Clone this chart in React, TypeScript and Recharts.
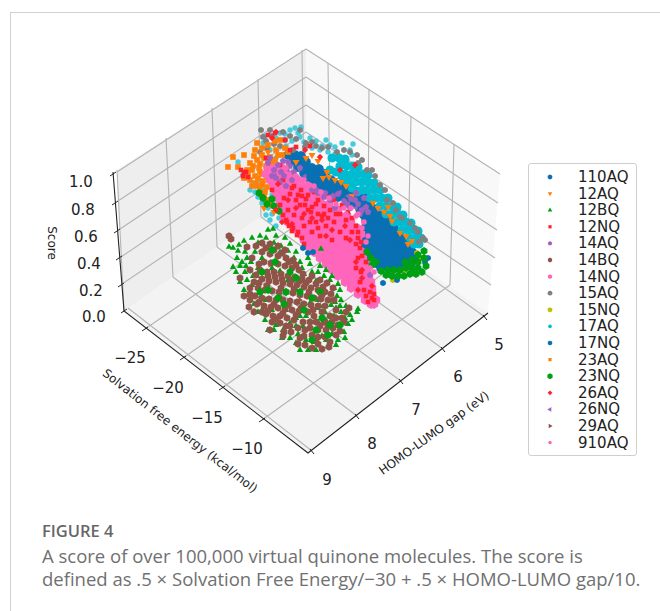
import React from "react";
import { ScatterChart, Scatter, XAxis, YAxis, Legend, Customized } from "recharts";

// The original is a matplotlib 3D scatter. Values here are read off its flattened view,
// so every series is a list of [viewX, viewY] pairs.
type Pt = [number, number];

const solvationLabels = ["\u221225", "\u221220", "\u221215", "\u221210"];
const gapLabels = ["5", "6", "7", "8", "9"];
const scoreLabels = ["1.0", "0.8", "0.6", "0.4", "0.2", "0.0"];

const pts110AQ: Pt[] = [
  [288,155],[295,155],[301,156],[292,161],[299,161],[306,162],[298,167],[305,167],[312,168],[319,169],
  [304,173],[311,173],[318,173],[325,174],[310,179],[317,179],[324,179],[331,180],[316,185],[323,185],
  [330,185],[337,185],[344,186],[322,191],[329,191],[336,191],[343,191],[350,191],[357,192],[331,197],
  [338,197],[345,197],[352,197],[359,197],[366,198],[348,203],[355,203],[362,203],[369,203],[360,209],
  [367,209],[374,209],[364,215],[371,215],[378,215],[384,215],[366,221],[373,221],[380,221],[387,221],
  [366,227],[373,227],[380,227],[387,227],[394,228],[365,233],[372,233],[379,233],[386,233],[393,233],
  [399,234],[364,239],[371,239],[378,239],[385,239],[392,239],[399,239],[405,240],[362,245],[369,245],
  [376,245],[383,245],[390,245],[397,245],[404,245],[409,246],[364,251],[371,251],[378,251],[385,251],
  [392,251],[399,251],[406,251],[412,252],[368,257],[375,257],[382,257],[389,257],[396,257],[403,257],
  [410,257],[415,258],[376,263],[383,263],[390,263],[397,263],[404,263],[411,263],[381,268],[388,268],
  [395,268],[402,268],
];

const pts12AQ: Pt[] = [
  [323,178],[329,177],[335,180],[341,182],[346,186],[327,172],[373,203],[378,208],[384,212],[390,216],
  [392,221],[388,207],[400,233],[406,236],[412,241],[408,244],[306,158],[312,155],[318,161],[268,152],
  [270,205],[264,208],[274,212],[296,162],[352,196],
];

const pts12BQ: Pt[] = [
  [233,248],[239,245],[244,241],[252,238],[268,230],[273,229],[258,243],[245,252],[237,258],[233,267],
  [240,266],[236,272],[245,272],[251,262],[247,280],[253,276],[244,290],[262,258],[274,243],[281,246],
  [285,238],[280,252],[288,251],[296,252],[292,262],[300,262],[308,258],[304,274],[312,272],[320,266],
  [316,281],[324,276],[330,280],[334,288],[337,296],[331,305],[325,312],[335,302],[258,268],[262,291],
  [256,296],[250,300],[266,300],[272,268],[280,271],[288,280],[296,290],[280,296],[272,310],[286,310],
  [296,318],[302,304],[310,296],[318,300],[306,316],[298,334],[296,343],[303,326],[310,322],[318,322],
  [326,320],[334,316],[341,312],[345,318],[348,324],[338,326],[344,332],[332,334],[322,336],[314,342],
  [328,346],[338,340],[357,312],[358,309],[318,308],[312,310],[321,249],[262,310],[268,330],[276,325],
  [283,330],[290,323],[240,282],[229,247],
  [238,251],[247,258],[255,252],[242,262],[260,236],[266,238],[276,236],[290,244],[294,258],[302,268],
  [310,264],[318,272],[326,270],[332,276],[338,284],[340,290],[341,300],[336,308],[246,266],[252,285],
  [257,276],[248,295],[254,304],[258,312],[265,320],[274,330],[282,338],[290,338],[296,326],[300,316],
  [310,303],[320,306],[306,340],[308,350],[300,350],[316,350],[326,340],[336,345],[345,338],[350,315],
  [352,320],[346,306],[340,306],
];

const pts12NQ: Pt[] = [
  [246,172],[243,176],[241,170],[283,180],[292,188],[298,195],[300,205],[306,199],[312,207],[318,214],
  [324,206],[286,220],[289,226],[292,231],[297,235],[302,238],[280,205],[284,198],[288,210],[294,215],
  [302,218],[310,222],[318,228],[326,226],[334,222],[340,232],[346,238],[352,232],[356,226],[332,240],
  [358,238],[361,242],[358,258],[360,248],[366,262],[360,282],[364,290],[366,296],[370,292],[374,294],
  [330,210],[336,214],[342,205],[348,212],[266,158],[275,133],[280,165],[272,190],[262,196],[296,147],
  [310,146],[301,190],[308,195],[314,192],[305,205],[311,212],[296,200],[322,216],[316,222],[328,218],
  [304,226],[312,232],[320,236],[340,214],[346,220],[334,200],[352,218],[358,232],[356,268],[361,272],
  [366,252],[362,256],[356,244],[372,298],[368,302],[374,300],[283,215],[287,222],[293,228],[298,232],
  [304,244],[248,177],[244,172],[285,140],[268,135],[290,150],[294,186],[302,196],[318,200],[326,196],
  [290,194],[308,210],[316,204],[324,214],
];

const pts14AQ: Pt[] = [
  [268,163],[274,170],[281,172],[276,178],[284,176],[290,166],[283,161],[292,180],[286,186],[312,190],
  [318,193],[324,197],[330,200],[338,194],[344,201],[351,199],[358,204],[350,208],[362,210],[366,207],
  [335,208],[300,168],[370,275],[364,198],[356,193],
  [270,158],[278,165],[288,162],[294,172],[272,176],[280,182],[325,193],[316,190],[333,196],[347,204],
  [360,214],[368,212],[355,200],
];

const pts14BQ: Pt[] = [
  [229,236],[231,239],[247,247],[256,246],[262,243],[270,244],[278,246],[285,250],[252,258],[262,252],
  [270,254],[278,256],[286,258],[293,260],[264,262],[271,263],[278,264],[285,266],[292,268],[299,270],
  [260,270],[267,272],[274,272],[281,274],[288,276],[295,277],[302,279],[309,280],[316,284],[323,287],
  [262,279],[269,281],[276,282],[283,283],[290,284],[297,285],[304,287],[311,288],[318,290],[325,292],
  [331,294],[258,288],[265,290],[272,291],[279,292],[286,292],[293,293],[300,295],[307,296],[314,298],
  [321,299],[328,300],[255,296],[262,298],[269,299],[276,300],[283,300],[290,301],[297,302],[304,304],
  [311,305],[318,306],[257,304],[264,306],[271,307],[278,308],[285,309],[292,310],[299,311],[308,312],
  [266,314],[273,316],[280,316],[287,318],[294,320],[272,322],[280,323],[286,326],[284,332],[291,332],
  [244,296],[250,294],[249,307],[254,312],[314,316],[322,312],[330,316],[336,310],[342,318],[316,322],
  [324,322],[332,322],[338,325],[346,312],[349,308],[326,330],[333,328],[318,330],[310,328],[303,322],
  [298,328],[325,337],[318,337],[304,336],[298,344],[305,345],[312,348],[318,344],[322,349],[329,347],
  [283,336],[270,330],[240,278],[250,270],[254,282],
  [266,248],[274,250],[282,253],[259,264],[289,262],[296,265],[303,274],[312,276],[320,280],[327,283],
  [333,288],[268,276],[275,277],[282,279],[292,280],[306,283],[300,281],[256,275],[250,288],[259,283],
  [267,286],[281,288],[294,289],[309,292],[322,295],[334,300],[250,300],[259,302],[274,304],[288,305],
  [301,308],[313,310],[325,306],[268,311],[283,313],[296,315],[276,319],[290,326],[262,312],[320,326],
  [328,325],[336,318],[344,322],[340,331],[310,322],[305,330],[312,335],[300,338],[330,342],[336,335],
  [316,341],
];

const pts14NQ: Pt[] = [
  [268,168],[275,168],[282,168],[266,174],[273,174],[280,174],[287,174],[292,175],[270,180],[277,180],
  [284,180],[291,180],[298,180],[274,186],[281,186],[288,186],[295,186],[302,186],[308,186],[276,192],
  [283,192],[290,192],[297,192],[304,192],[311,192],[316,192],[278,198],[285,198],[292,198],[299,198],
  [306,198],[313,198],[320,198],[280,204],[287,204],[294,204],[301,204],[308,204],[315,204],[322,204],
  [329,204],[282,210],[289,210],[296,210],[303,210],[310,210],[317,210],[324,210],[331,210],[338,210],
  [284,216],[291,216],[298,216],[305,216],[312,216],[319,216],[326,216],[333,216],[340,216],[347,216],
  [288,222],[295,222],[302,222],[309,222],[316,222],[323,222],[330,222],[337,222],[344,222],[351,222],
  [294,228],[301,228],[308,228],[315,228],[322,228],[329,228],[336,228],[343,228],[350,228],[357,228],
  [300,234],[307,234],[314,234],[321,234],[328,234],[335,234],[342,234],[349,234],[356,234],[361,234],
  [304,240],[311,240],[318,240],[325,240],[332,240],[339,240],[346,240],[353,240],[358,240],[308,246],
  [315,246],[322,246],[329,246],[336,246],[343,246],[350,246],[357,246],[314,252],[321,252],[328,252],
  [335,252],[342,252],[349,252],[356,252],[362,252],[320,258],[327,258],[334,258],[341,258],[348,258],
  [355,258],[363,258],[326,264],[333,264],[340,264],[347,264],[354,264],[361,264],[366,264],[332,270],
  [339,270],[346,270],[353,270],[360,270],[367,270],[338,276],[345,276],[352,276],[359,276],[369,276],
  [345,282],[352,282],[359,282],[366,282],[371,282],[351,288],[358,288],[365,288],[372,288],[358,294],
  [365,294],[372,294],[365,300],[371,300],[376,300],[371,304],[374,304],[363,276],[368,288],
];

const pts15AQ: Pt[] = [
  [261,130],[263,137],[266,141],[272,136],[285,140],[296,139],[306,143],[316,146],[328,147],[337,152],
  [344,150],[357,155],[362,160],[367,170],[375,176],[380,185],[387,200],[393,203],[400,217],[402,218],
  [410,223],[418,232],[423,238],[419,242],[260,152],[274,144],
  [283,132],[290,136],[300,130],[312,142],[322,148],[350,152],[372,170],[385,190],[396,210],[280,146],
  [270,130],[267,148],[293,150],[305,147],[415,228],[425,240],[358,163],
];

const pts15NQ: Pt[] = [[417,253],[421,258],[393,280],[405,271]];

const pts17AQ: Pt[] = [
  [332,158],[339,158],[345,159],[340,166],[347,166],[353,166],[358,167],[345,174],[352,174],[358,174],
  [364,174],[368,175],[350,182],[356,182],[362,182],[368,182],[374,183],[362,190],[368,190],[374,190],
  [380,190],[370,198],[376,198],[382,198],[388,198],[380,206],[386,206],[392,206],[397,207],[386,214],
  [392,214],[398,214],[403,215],[394,222],[400,222],[406,222],[411,223],[402,230],[408,230],[414,230],
  [418,231],[410,238],[416,238],[421,238],[414,244],[419,244],[330,170],[336,172],[342,176],[345,180],
  [352,188],[357,192],[352,180],
];

// the thin spray of 17AQ points behind the main band
const pts17AQSpray: Pt[] = [
  [320,150],[328,152],[335,154],[285,134],[295,128],[301,127],[265,136],[270,150],[300,137],[310,138],
  [316,141],[326,140],[246,173],[255,192],[258,180],[262,203],[268,208],[272,214],[279,218],[350,150],
  [272,195],[265,190],[286,146],[276,158],[263,143],[280,133],[276,138],[290,130],[298,133],[292,141],
  [304,142],[312,148],[330,145],[322,146],[335,147],[342,143],[352,155],[353,144],[253,183],[243,175],
  [238,162],[250,190],[258,197],[270,220],[276,226],[266,215],
];

const pts17NQ: Pt[] = [[303,248],[308,253],[313,252],[383,283],[397,280],[390,275],[425,262],[428,258]];

const pts23AQ: Pt[] = [
  [233,157],[244,155],[228,167],[238,167],[257,143],[255,150],[262,148],[250,163],[257,160],[264,158],
  [252,170],[259,168],[266,166],[273,163],[248,175],[255,176],[262,174],[269,172],[256,183],[263,181],
  [270,179],[260,190],[267,187],[264,197],[270,200],[276,150],[282,155],[275,160],[280,140],
  [247,170],[253,166],[260,172],[267,176],[274,168],[250,180],[244,178],[257,186],[265,192],[272,183],
  [262,155],[270,157],[278,155],[285,148],[268,145],[275,141],[288,152],[254,156],[260,164],[268,162],
  [258,178],[252,186],[266,200],[262,185],
];

const pts23NQ: Pt[] = [
  [259,193],[263,198],[267,204],[274,206],[272,199],[279,211],
  [367,252],[371,258],[376,262],[372,265],[388,270],[394,270],[400,270],[406,268],[412,265],[418,262],
  [424,258],[418,255],[424,251],[426,266],[422,272],[416,274],[410,274],[404,276],[398,276],[392,276],
  [386,275],[381,271],[412,270],[418,268],[405,262],[412,260],
  [275,262],[290,272],[268,290],[300,292],[284,304],[312,298],[278,298],[296,278],[262,272],[320,292],
  [304,310],[272,250],[286,292],[260,292],[316,330],[330,325],[322,318],[340,325],[312,340],[328,335],
];

const pts26AQ: Pt[] = [
  [272,138],[276,132],[305,150],[320,157],[340,170],[355,165],[278,184],[288,200],[296,208],[304,214],
  [312,218],[322,220],[332,230],[345,226],[350,240],[356,262],[362,270],[362,278],[326,236],
  [358,290],[372,286],[276,210],[282,222],[292,224],
];

const pts26NQ: Pt[] = [[275,175],[288,170],[305,176],[340,192],[356,208],[348,196]];

const pts29AQ: Pt[] = [[270,265],[300,300],[320,295],[290,305],[265,285]];

const pts910AQ: Pt[] = [
  [286,168],[296,176],[304,180],[314,186],[321,192],[329,198],[336,204],[344,208],[351,208],[358,214],
  [364,222],[362,228],[356,216],[346,214],[366,242],[368,236],[370,268],[374,272],
];

const seriesNames = ["110AQ","12AQ","12BQ","12NQ","14AQ","14BQ","14NQ","15AQ","15NQ","17AQ","17NQ","23AQ","23NQ","26AQ","26NQ","29AQ","910AQ"];
const seriesPoints: Pt[][] = [pts110AQ,pts12AQ,pts12BQ,pts12NQ,pts14AQ,pts14BQ,pts14NQ,pts15AQ,pts15NQ,pts17AQ,pts17NQ,pts23AQ,pts23NQ,pts26AQ,pts26NQ,pts29AQ,pts910AQ];
const seriesColors = ["#0a70b4","#ff8008","#00a014","#ff2030","#a060c0","#8f5347","#ff66bb","#808080","#c0c000","#00bcd0","#0a70b4","#ff8008","#00a014","#ff2030","#a060c0","#8f5347","#ff66bb"];
const seriesMarkers = ["circle","down","up","square","pentagon","hexagon","hexagon","circle","circle","circle","circle","square","hexagon","diamond","left","right","circle"];
const seriesRadius = [4.9,4,3.7,3.2,3.4,3.8,4.9,3,3,4.6,3,4,3.9,3.2,3,3,2.8];
const legendRadius = [2.4,2.6,2.6,2.3,2.4,2.4,2.4,2.4,2.4,1.9,2.3,2.3,3,2.4,2.6,2.6,1.7];
const draw = [0,9,7,11,1,6,3,4,2,5,8,10,12,13,14,15,16];

const markerPath = (kind: string, x: number, y: number, r: number) => {
  const poly = (n: number, start: number) => {
    const out: string[] = [];
    for (let i = 0; i < n; i++) {
      const a = start + (i * 2 * Math.PI) / n;
      out.push(`${(x + r * Math.cos(a)).toFixed(1)},${(y + r * Math.sin(a)).toFixed(1)}`);
    }
    return "M" + out.join("L") + "Z";
  };
  if (kind === "down") return poly(3, Math.PI / 2);
  if (kind === "up") return poly(3, -Math.PI / 2);
  if (kind === "left") return poly(3, Math.PI);
  if (kind === "right") return poly(3, 0);
  if (kind === "square") return poly(4, Math.PI / 4);
  if (kind === "diamond") return poly(4, 0);
  if (kind === "pentagon") return poly(5, -Math.PI / 2);
  if (kind === "hexagon") return poly(6, -Math.PI / 2);
  return poly(12, 0);
};

const font = "'DejaVu Sans', sans-serif";
const gridColor = "#b4b4b4";

// 3D box as it sits in the view
const leftWall = "124,311 117,170 306,49 306,186";
const rightWall = "306,49 500,174 488,313 306,186";
const floor = "124,311 308,453 488,313 306,186";

const gridLines = [
  // score lines on the two walls
  [117,172,306,49],[118,201,306,77],[120,229,306,105],[121,257,306,132],[122,284,306,160],
  [306,49,500,174],[306,77,498,203],[306,105,497,230],[306,132,495,258],[306,160,491,285],
  // verticals on the left wall
  [117,170,124,311],[166,138,173,277],[212,108,217,247],[258,79,261,217],[302,50,304,187],
  // verticals on the right wall
  [328,63,330,202],[369,89,368,229],[411,116,408,256],[454,144,450,285],
  // floor
  [173,277,357,416],[217,247,401,381],[261,217,443,349],[304,187,485,317],[128,308,312,451],
  [145,329,330,202],[183,358,368,229],[222,388,408,256],[262,420,450,285],
];
const solvationTicks = [[145,329,130,358],[183,358,168,388],[222,388,207,418],[262,420,247,449]];
const gapTicks = [[485,317,499,345],[443,349,458,377],[401,381,416,410],[357,416,372,444],[312,451,327,480]];
const scoreTicks = [[113,174,81,182],[115,203,83,210],[117,231,86,237],[119,258,89,264],[121,285,91,291],[124,311,94,317]];

const Frame = () => (
  <g>
    <polygon points={leftWall} fill="#eeeeee" />
    <polygon points={rightWall} fill="#f8f8f8" />
    <polygon points={floor} fill="#f3f3f3" />
    {gridLines.map((l, i) => (
      <line key={i} x1={l[0]} y1={l[1]} x2={l[2]} y2={l[3]} stroke={gridColor} strokeWidth={1.1} />
    ))}
    <polyline points="113,172 124,311 308,453 488,313" fill="none" stroke="#222" strokeWidth={1.1} />
    {solvationTicks.map((t, i) => (
      <g key={i}>
        <line x1={t[0] - 3} y1={t[1] + 2} x2={t[0] + 3} y2={t[1] - 2} stroke="#222" />
        <text x={t[2]} y={t[3]} textAnchor="middle" fontFamily={font} fontSize={15} fill="#222" dominantBaseline="central">{solvationLabels[i]}</text>
      </g>
    ))}
    {gapTicks.map((t, i) => (
      <g key={i}>
        <line x1={t[0] - 2} y1={t[1] - 2} x2={t[0] + 2} y2={t[1] + 3} stroke="#222" />
        <text x={t[2]} y={t[3]} textAnchor="middle" fontFamily={font} fontSize={15} fill="#222" dominantBaseline="central">{gapLabels[i]}</text>
      </g>
    ))}
    {scoreTicks.map((t, i) => (
      <g key={i}>
        <line x1={t[0] - 3} y1={t[1] + 2} x2={t[0] + 3} y2={t[1] - 2} stroke="#222" />
        <text x={t[2]} y={t[3]} textAnchor="middle" fontFamily={font} fontSize={15} fill="#222" dominantBaseline="central">{scoreLabels[i]}</text>
      </g>
    ))}
    <text transform="translate(52,243) rotate(90)" textAnchor="middle" dominantBaseline="central" fontFamily={font} fontSize={12} fill="#222">Score</text>
    <text transform="translate(180,431) rotate(38)" textAnchor="middle" dominantBaseline="central" fontFamily={font} fontSize={12} fill="#222">Solvation free energy (kcal/mol)</text>
    <text transform="translate(434,433) rotate(-36)" textAnchor="middle" dominantBaseline="central" fontFamily={font} fontSize={12} fill="#222">HOMO-LUMO gap (eV)</text>
  </g>
);

const LegendBox = () => (
  <div style={{ width: 109, height: 293, boxSizing: "border-box", border: "1px solid #cfcfcf", borderRadius: 3, background: "#fff" }}>
    <svg width={107} height={291}>
      {seriesNames.map((name, i) => (
        <g key={name}>
          <path d={markerPath(seriesMarkers[i], 21, 13 + i * 16.6, legendRadius[i])} fill={seriesColors[i]} />
          <text x={49} y={13 + i * 16.6} dominantBaseline="central" fontFamily={font} fontSize={15} fill="#222">{name}</text>
        </g>
      ))}
    </svg>
  </div>
);

export default function App() {
  return (
    <div style={{ position: "absolute", left: 0, top: 0, width: 660, height: 611, background: "#fff", overflow: "hidden" }}>
      <div style={{ position: "absolute", left: 10, top: 12, width: 660, height: 620, border: "1px solid #d0d0d0" }} />
      <ScatterChart width={660} height={611} margin={{ top: 0, right: 0, bottom: 0, left: 0 }} style={{ position: "absolute", left: 0, top: 0 }}>
        <XAxis type="number" dataKey="x" domain={[0, 660]} hide />
        <YAxis type="number" dataKey="y" domain={[0, 611]} reversed hide />
        <Customized component={Frame} />
        <Legend
          layout="horizontal"
          align="center"
          verticalAlign="middle"
          content={<LegendBox />}
          wrapperStyle={{ left: 528, top: 163, width: 109, height: 293, bottom: "auto" }}
        />
        <Scatter
          name="17AQ spray"
          legendType="none"
          data={pts17AQSpray.map(([x, y]) => ({ x, y }))}
          isAnimationActive={false}
          shape={(p: any) => <circle cx={p.cx} cy={p.cy} r={2.7} fill="#45cbdc" />}
        />
        {draw.map((i) => (
          <Scatter
            key={seriesNames[i]}
            name={seriesNames[i]}
            data={seriesPoints[i].map(([x, y]) => ({ x, y }))}
            fill={seriesColors[i]}
            isAnimationActive={false}
            shape={(p: any) => <path d={markerPath(seriesMarkers[i], p.cx, p.cy, seriesRadius[i])} fill={seriesColors[i]} />}
          />
        ))}
      </ScatterChart>
      <div style={{ position: "absolute", left: 42, top: 519, fontFamily: "'Open Sans', sans-serif", fontSize: 16.5, fontWeight: 600, color: "#666" }}>FIGURE 4</div>
      <div style={{ position: "absolute", left: 42, top: 544, width: 610, fontFamily: "'Open Sans', sans-serif", fontSize: 18.5, lineHeight: "23px", color: "#707070", whiteSpace: "nowrap" }}>
        A score of over 100,000 virtual quinone molecules. The score is
        <br />
        defined as .5 × Solvation Free Energy/−30 + .5 × HOMO-LUMO gap/10.
      </div>
    </div>
  );
}
